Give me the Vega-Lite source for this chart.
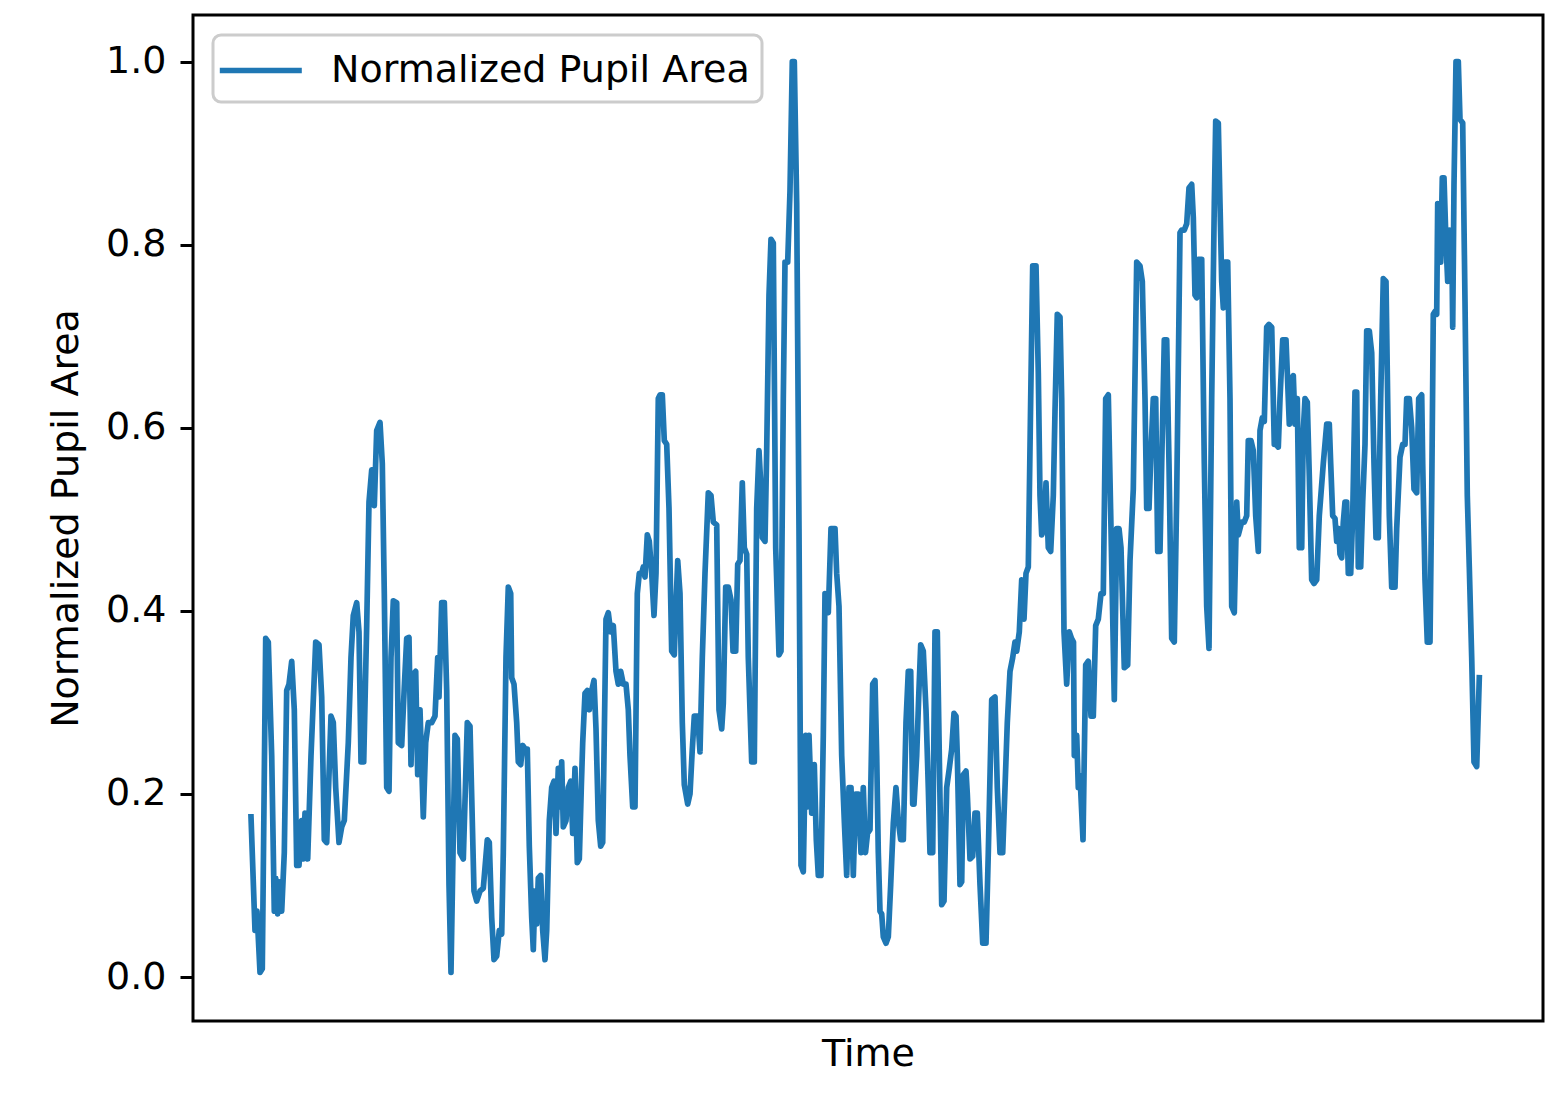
{
  "$schema": "https://vega.github.io/schema/vega-lite/v6.json",
  "width": 1350,
  "height": 1006,
  "autosize": {"type": "none"},
  "padding": {"left": 193, "top": 15, "right": 6, "bottom": 73},
  "background": "white",
  "config": {
    "view": {"stroke": "black", "strokeWidth": 3, "fill": "white"},
    "font": "DejaVu Sans",
    "axis": {"labelFont": "DejaVu Sans", "titleFont": "DejaVu Sans", "labelColor": "black", "titleColor": "black", "titleFontWeight": "normal", "grid": false, "domain": false},
    "legend": {"strokeWidth": 3}
  },
  "data": {"values": [
    {"time": 1.0, "area": 0.175}, {"time": 5.0, "area": 0.051}, {"time": 7.0, "area": 0.072}, {"time": 10.0, "area": 0.005}, {"time": 12.3, "area": 0.009}, {"time": 15.7, "area": 0.370}, {"time": 18.3, "area": 0.366}, {"time": 21.7, "area": 0.242}, {"time": 24.3, "area": 0.072}, {"time": 25.7, "area": 0.108}, {"time": 27.7, "area": 0.069}, {"time": 30.0, "area": 0.104}, {"time": 31.7, "area": 0.072}, {"time": 34.3, "area": 0.136}, {"time": 36.7, "area": 0.313}, {"time": 39.0, "area": 0.320}, {"time": 41.7, "area": 0.345}, {"time": 44.3, "area": 0.292}, {"time": 46.7, "area": 0.122}, {"time": 49.0, "area": 0.122}, {"time": 51.7, "area": 0.171}, {"time": 53.3, "area": 0.129}, {"time": 55.0, "area": 0.179}, {"time": 57.7, "area": 0.129}, {"time": 61.0, "area": 0.242}, {"time": 65.7, "area": 0.366}, {"time": 69.0, "area": 0.363}, {"time": 71.7, "area": 0.306}, {"time": 74.3, "area": 0.150}, {"time": 76.7, "area": 0.147}, {"time": 81.0, "area": 0.285}, {"time": 83.3, "area": 0.278}, {"time": 85.7, "area": 0.207}, {"time": 89.0, "area": 0.147}, {"time": 91.7, "area": 0.164}, {"time": 94.3, "area": 0.171}, {"time": 98.3, "area": 0.256}, {"time": 101.0, "area": 0.349}, {"time": 103.3, "area": 0.395}, {"time": 106.7, "area": 0.409}, {"time": 109.0, "area": 0.377}, {"time": 111.0, "area": 0.235}, {"time": 113.7, "area": 0.235}, {"time": 116.7, "area": 0.384}, {"time": 119.0, "area": 0.519}, {"time": 121.7, "area": 0.554}, {"time": 124.3, "area": 0.515}, {"time": 126.7, "area": 0.597}, {"time": 130.0, "area": 0.606}, {"time": 132.3, "area": 0.561}, {"time": 134.3, "area": 0.419}, {"time": 136.7, "area": 0.207}, {"time": 139.0, "area": 0.203}, {"time": 141.0, "area": 0.349}, {"time": 143.3, "area": 0.411}, {"time": 146.7, "area": 0.409}, {"time": 148.3, "area": 0.256}, {"time": 151.7, "area": 0.253}, {"time": 154.3, "area": 0.317}, {"time": 156.7, "area": 0.370}, {"time": 159.0, "area": 0.371}, {"time": 161.0, "area": 0.232}, {"time": 163.3, "area": 0.331}, {"time": 165.7, "area": 0.334}, {"time": 167.7, "area": 0.221}, {"time": 170.0, "area": 0.292}, {"time": 173.3, "area": 0.175}, {"time": 175.7, "area": 0.256}, {"time": 178.3, "area": 0.278}, {"time": 181.7, "area": 0.278}, {"time": 185.0, "area": 0.285}, {"time": 187.7, "area": 0.349}, {"time": 189.0, "area": 0.306}, {"time": 191.7, "area": 0.409}, {"time": 194.3, "area": 0.409}, {"time": 196.7, "area": 0.313}, {"time": 199.0, "area": 0.101}, {"time": 201.0, "area": 0.005}, {"time": 205.0, "area": 0.264}, {"time": 207.3, "area": 0.260}, {"time": 210.0, "area": 0.136}, {"time": 213.3, "area": 0.129}, {"time": 217.3, "area": 0.278}, {"time": 220.0, "area": 0.274}, {"time": 224.0, "area": 0.094}, {"time": 226.7, "area": 0.083}, {"time": 230.0, "area": 0.094}, {"time": 233.3, "area": 0.097}, {"time": 237.3, "area": 0.150}, {"time": 239.3, "area": 0.147}, {"time": 241.7, "area": 0.065}, {"time": 244.0, "area": 0.019}, {"time": 246.7, "area": 0.023}, {"time": 249.3, "area": 0.051}, {"time": 251.7, "area": 0.047}, {"time": 253.3, "area": 0.136}, {"time": 256.0, "area": 0.349}, {"time": 258.3, "area": 0.426}, {"time": 260.7, "area": 0.419}, {"time": 261.7, "area": 0.327}, {"time": 264.0, "area": 0.320}, {"time": 266.7, "area": 0.278}, {"time": 268.3, "area": 0.235}, {"time": 270.7, "area": 0.232}, {"time": 272.7, "area": 0.253}, {"time": 275.3, "area": 0.249}, {"time": 277.3, "area": 0.249}, {"time": 279.3, "area": 0.143}, {"time": 281.7, "area": 0.065}, {"time": 283.3, "area": 0.030}, {"time": 285.0, "area": 0.094}, {"time": 286.7, "area": 0.058}, {"time": 288.3, "area": 0.108}, {"time": 290.7, "area": 0.111}, {"time": 292.7, "area": 0.051}, {"time": 295.0, "area": 0.019}, {"time": 296.7, "area": 0.051}, {"time": 299.3, "area": 0.171}, {"time": 301.7, "area": 0.207}, {"time": 304.0, "area": 0.214}, {"time": 306.0, "area": 0.157}, {"time": 308.3, "area": 0.228}, {"time": 310.0, "area": 0.186}, {"time": 311.7, "area": 0.235}, {"time": 313.3, "area": 0.164}, {"time": 316.0, "area": 0.171}, {"time": 318.3, "area": 0.207}, {"time": 320.7, "area": 0.214}, {"time": 322.7, "area": 0.157}, {"time": 325.0, "area": 0.228}, {"time": 327.3, "area": 0.125}, {"time": 329.3, "area": 0.129}, {"time": 331.3, "area": 0.207}, {"time": 332.7, "area": 0.256}, {"time": 335.0, "area": 0.310}, {"time": 337.3, "area": 0.313}, {"time": 339.3, "area": 0.292}, {"time": 341.7, "area": 0.313}, {"time": 344.0, "area": 0.324}, {"time": 346.0, "area": 0.271}, {"time": 348.3, "area": 0.171}, {"time": 350.7, "area": 0.143}, {"time": 352.7, "area": 0.147}, {"time": 356.0, "area": 0.391}, {"time": 358.3, "area": 0.398}, {"time": 360.7, "area": 0.377}, {"time": 363.3, "area": 0.384}, {"time": 366.0, "area": 0.334}, {"time": 368.3, "area": 0.320}, {"time": 370.7, "area": 0.334}, {"time": 373.3, "area": 0.320}, {"time": 376.0, "area": 0.320}, {"time": 378.3, "area": 0.292}, {"time": 380.0, "area": 0.242}, {"time": 382.7, "area": 0.186}, {"time": 385.0, "area": 0.186}, {"time": 387.3, "area": 0.419}, {"time": 389.3, "area": 0.441}, {"time": 391.7, "area": 0.441}, {"time": 393.3, "area": 0.448}, {"time": 395.0, "area": 0.437}, {"time": 397.3, "area": 0.483}, {"time": 399.3, "area": 0.476}, {"time": 401.7, "area": 0.441}, {"time": 404.0, "area": 0.395}, {"time": 406.0, "area": 0.441}, {"time": 408.3, "area": 0.632}, {"time": 410.0, "area": 0.636}, {"time": 412.3, "area": 0.636}, {"time": 414.3, "area": 0.586}, {"time": 416.7, "area": 0.582}, {"time": 419.0, "area": 0.512}, {"time": 421.7, "area": 0.356}, {"time": 424.3, "area": 0.352}, {"time": 425.7, "area": 0.398}, {"time": 427.7, "area": 0.455}, {"time": 430.0, "area": 0.419}, {"time": 432.3, "area": 0.278}, {"time": 434.3, "area": 0.210}, {"time": 437.7, "area": 0.189}, {"time": 440.0, "area": 0.200}, {"time": 442.3, "area": 0.249}, {"time": 444.3, "area": 0.285}, {"time": 447.7, "area": 0.285}, {"time": 450.0, "area": 0.246}, {"time": 452.3, "area": 0.349}, {"time": 455.0, "area": 0.441}, {"time": 458.3, "area": 0.529}, {"time": 461.0, "area": 0.526}, {"time": 463.3, "area": 0.497}, {"time": 466.7, "area": 0.494}, {"time": 469.0, "area": 0.292}, {"time": 471.7, "area": 0.271}, {"time": 473.3, "area": 0.299}, {"time": 475.7, "area": 0.426}, {"time": 478.3, "area": 0.426}, {"time": 481.0, "area": 0.412}, {"time": 483.0, "area": 0.356}, {"time": 485.7, "area": 0.356}, {"time": 487.7, "area": 0.451}, {"time": 490.0, "area": 0.455}, {"time": 492.3, "area": 0.540}, {"time": 494.3, "area": 0.469}, {"time": 496.7, "area": 0.462}, {"time": 498.3, "area": 0.349}, {"time": 501.7, "area": 0.235}, {"time": 504.3, "area": 0.235}, {"time": 506.7, "area": 0.512}, {"time": 509.0, "area": 0.575}, {"time": 511.0, "area": 0.533}, {"time": 512.3, "area": 0.480}, {"time": 515.0, "area": 0.476}, {"time": 516.7, "area": 0.575}, {"time": 519.0, "area": 0.745}, {"time": 521.0, "area": 0.806}, {"time": 523.3, "area": 0.802}, {"time": 525.7, "area": 0.469}, {"time": 529.0, "area": 0.352}, {"time": 531.0, "area": 0.356}, {"time": 533.3, "area": 0.632}, {"time": 535.0, "area": 0.781}, {"time": 537.7, "area": 0.781}, {"time": 540.0, "area": 0.859}, {"time": 542.3, "area": 1.000}, {"time": 544.3, "area": 1.000}, {"time": 546.7, "area": 0.845}, {"time": 549.0, "area": 0.490}, {"time": 551.0, "area": 0.122}, {"time": 553.3, "area": 0.115}, {"time": 555.7, "area": 0.264}, {"time": 557.7, "area": 0.186}, {"time": 559.0, "area": 0.264}, {"time": 561.7, "area": 0.179}, {"time": 564.3, "area": 0.232}, {"time": 566.3, "area": 0.150}, {"time": 568.3, "area": 0.111}, {"time": 571.0, "area": 0.111}, {"time": 573.3, "area": 0.264}, {"time": 575.0, "area": 0.419}, {"time": 578.3, "area": 0.398}, {"time": 581.0, "area": 0.490}, {"time": 585.0, "area": 0.490}, {"time": 586.7, "area": 0.441}, {"time": 589.0, "area": 0.405}, {"time": 591.7, "area": 0.242}, {"time": 594.3, "area": 0.171}, {"time": 596.7, "area": 0.111}, {"time": 599.0, "area": 0.207}, {"time": 601.0, "area": 0.207}, {"time": 603.3, "area": 0.111}, {"time": 605.7, "area": 0.200}, {"time": 608.3, "area": 0.200}, {"time": 611.0, "area": 0.136}, {"time": 613.3, "area": 0.207}, {"time": 615.5, "area": 0.136}, {"time": 617.5, "area": 0.157}, {"time": 620.0, "area": 0.161}, {"time": 622.7, "area": 0.320}, {"time": 625.0, "area": 0.324}, {"time": 626.7, "area": 0.242}, {"time": 628.3, "area": 0.136}, {"time": 630.0, "area": 0.072}, {"time": 631.7, "area": 0.069}, {"time": 633.3, "area": 0.044}, {"time": 636.0, "area": 0.037}, {"time": 638.3, "area": 0.044}, {"time": 640.7, "area": 0.101}, {"time": 643.3, "area": 0.168}, {"time": 646.0, "area": 0.207}, {"time": 648.3, "area": 0.171}, {"time": 650.7, "area": 0.150}, {"time": 653.3, "area": 0.150}, {"time": 656.0, "area": 0.278}, {"time": 658.3, "area": 0.334}, {"time": 660.7, "area": 0.334}, {"time": 662.7, "area": 0.189}, {"time": 664.0, "area": 0.189}, {"time": 666.7, "area": 0.242}, {"time": 668.7, "area": 0.306}, {"time": 670.7, "area": 0.363}, {"time": 673.3, "area": 0.356}, {"time": 676.0, "area": 0.292}, {"time": 678.3, "area": 0.207}, {"time": 680.0, "area": 0.136}, {"time": 682.7, "area": 0.136}, {"time": 685.0, "area": 0.377}, {"time": 687.3, "area": 0.377}, {"time": 689.3, "area": 0.242}, {"time": 691.7, "area": 0.079}, {"time": 694.0, "area": 0.083}, {"time": 696.7, "area": 0.207}, {"time": 699.3, "area": 0.228}, {"time": 701.7, "area": 0.249}, {"time": 704.0, "area": 0.288}, {"time": 706.0, "area": 0.285}, {"time": 707.3, "area": 0.242}, {"time": 710.0, "area": 0.101}, {"time": 711.7, "area": 0.104}, {"time": 713.3, "area": 0.221}, {"time": 716.0, "area": 0.225}, {"time": 717.3, "area": 0.200}, {"time": 720.0, "area": 0.129}, {"time": 722.7, "area": 0.132}, {"time": 725.0, "area": 0.179}, {"time": 727.3, "area": 0.179}, {"time": 730.0, "area": 0.101}, {"time": 732.7, "area": 0.037}, {"time": 736.0, "area": 0.037}, {"time": 738.3, "area": 0.136}, {"time": 741.7, "area": 0.303}, {"time": 745.0, "area": 0.306}, {"time": 747.3, "area": 0.207}, {"time": 750.0, "area": 0.136}, {"time": 752.7, "area": 0.136}, {"time": 755.0, "area": 0.207}, {"time": 757.3, "area": 0.278}, {"time": 760.0, "area": 0.334}, {"time": 762.7, "area": 0.349}, {"time": 765.0, "area": 0.366}, {"time": 766.7, "area": 0.356}, {"time": 769.3, "area": 0.377}, {"time": 771.7, "area": 0.434}, {"time": 774.0, "area": 0.391}, {"time": 776.0, "area": 0.441}, {"time": 778.3, "area": 0.448}, {"time": 780.7, "area": 0.632}, {"time": 782.7, "area": 0.777}, {"time": 786.0, "area": 0.777}, {"time": 788.3, "area": 0.660}, {"time": 790.0, "area": 0.526}, {"time": 791.7, "area": 0.483}, {"time": 794.0, "area": 0.490}, {"time": 796.0, "area": 0.540}, {"time": 798.3, "area": 0.469}, {"time": 800.7, "area": 0.465}, {"time": 803.3, "area": 0.526}, {"time": 805.0, "area": 0.618}, {"time": 807.3, "area": 0.724}, {"time": 810.0, "area": 0.721}, {"time": 811.7, "area": 0.632}, {"time": 814.0, "area": 0.377}, {"time": 816.7, "area": 0.320}, {"time": 819.3, "area": 0.377}, {"time": 821.5, "area": 0.370}, {"time": 823.5, "area": 0.366}, {"time": 824.3, "area": 0.242}, {"time": 826.7, "area": 0.264}, {"time": 828.3, "area": 0.207}, {"time": 830.0, "area": 0.220}, {"time": 833.0, "area": 0.150}, {"time": 835.7, "area": 0.341}, {"time": 838.3, "area": 0.345}, {"time": 841.0, "area": 0.285}, {"time": 843.3, "area": 0.285}, {"time": 845.7, "area": 0.384}, {"time": 848.3, "area": 0.391}, {"time": 851.0, "area": 0.419}, {"time": 853.3, "area": 0.419}, {"time": 855.7, "area": 0.632}, {"time": 858.3, "area": 0.636}, {"time": 861.0, "area": 0.490}, {"time": 864.3, "area": 0.303}, {"time": 866.7, "area": 0.490}, {"time": 869.0, "area": 0.490}, {"time": 871.0, "area": 0.469}, {"time": 874.3, "area": 0.338}, {"time": 877.7, "area": 0.341}, {"time": 880.0, "area": 0.455}, {"time": 883.3, "area": 0.533}, {"time": 886.7, "area": 0.781}, {"time": 890.0, "area": 0.777}, {"time": 892.3, "area": 0.760}, {"time": 895.0, "area": 0.632}, {"time": 896.7, "area": 0.512}, {"time": 899.0, "area": 0.512}, {"time": 901.0, "area": 0.575}, {"time": 903.3, "area": 0.632}, {"time": 905.7, "area": 0.632}, {"time": 907.7, "area": 0.465}, {"time": 910.0, "area": 0.465}, {"time": 911.7, "area": 0.561}, {"time": 914.3, "area": 0.696}, {"time": 916.7, "area": 0.696}, {"time": 919.0, "area": 0.561}, {"time": 921.7, "area": 0.370}, {"time": 924.3, "area": 0.366}, {"time": 926.7, "area": 0.526}, {"time": 930.0, "area": 0.813}, {"time": 931.7, "area": 0.816}, {"time": 934.3, "area": 0.816}, {"time": 936.7, "area": 0.823}, {"time": 939.0, "area": 0.862}, {"time": 941.7, "area": 0.866}, {"time": 943.3, "area": 0.830}, {"time": 945.0, "area": 0.745}, {"time": 946.7, "area": 0.742}, {"time": 948.3, "area": 0.784}, {"time": 951.7, "area": 0.784}, {"time": 954.3, "area": 0.561}, {"time": 956.7, "area": 0.405}, {"time": 959.0, "area": 0.359}, {"time": 961.7, "area": 0.632}, {"time": 964.3, "area": 0.845}, {"time": 965.7, "area": 0.935}, {"time": 968.3, "area": 0.933}, {"time": 970.0, "area": 0.845}, {"time": 971.7, "area": 0.760}, {"time": 973.3, "area": 0.731}, {"time": 975.0, "area": 0.781}, {"time": 977.7, "area": 0.781}, {"time": 980.0, "area": 0.632}, {"time": 981.7, "area": 0.405}, {"time": 984.3, "area": 0.398}, {"time": 986.7, "area": 0.519}, {"time": 988.3, "area": 0.483}, {"time": 991.7, "area": 0.497}, {"time": 994.3, "area": 0.497}, {"time": 996.7, "area": 0.504}, {"time": 998.3, "area": 0.586}, {"time": 1001.0, "area": 0.586}, {"time": 1003.3, "area": 0.575}, {"time": 1005.7, "area": 0.504}, {"time": 1008.3, "area": 0.465}, {"time": 1010.0, "area": 0.597}, {"time": 1012.3, "area": 0.611}, {"time": 1014.3, "area": 0.607}, {"time": 1016.7, "area": 0.710}, {"time": 1019.0, "area": 0.713}, {"time": 1021.7, "area": 0.710}, {"time": 1024.3, "area": 0.582}, {"time": 1026.0, "area": 0.582}, {"time": 1028.3, "area": 0.579}, {"time": 1030.0, "area": 0.632}, {"time": 1032.7, "area": 0.696}, {"time": 1036.0, "area": 0.696}, {"time": 1037.3, "area": 0.660}, {"time": 1039.3, "area": 0.604}, {"time": 1040.7, "area": 0.653}, {"time": 1043.3, "area": 0.657}, {"time": 1045.0, "area": 0.604}, {"time": 1047.3, "area": 0.632}, {"time": 1049.3, "area": 0.469}, {"time": 1051.7, "area": 0.469}, {"time": 1053.3, "area": 0.597}, {"time": 1055.0, "area": 0.632}, {"time": 1057.3, "area": 0.628}, {"time": 1059.3, "area": 0.547}, {"time": 1061.7, "area": 0.434}, {"time": 1064.0, "area": 0.430}, {"time": 1066.7, "area": 0.434}, {"time": 1069.3, "area": 0.504}, {"time": 1073.3, "area": 0.561}, {"time": 1076.7, "area": 0.604}, {"time": 1079.3, "area": 0.604}, {"time": 1080.7, "area": 0.561}, {"time": 1082.7, "area": 0.504}, {"time": 1085.0, "area": 0.501}, {"time": 1086.7, "area": 0.476}, {"time": 1088.7, "area": 0.490}, {"time": 1090.0, "area": 0.462}, {"time": 1091.7, "area": 0.458}, {"time": 1093.3, "area": 0.497}, {"time": 1095.0, "area": 0.519}, {"time": 1096.7, "area": 0.519}, {"time": 1098.3, "area": 0.441}, {"time": 1100.7, "area": 0.441}, {"time": 1102.7, "area": 0.504}, {"time": 1105.0, "area": 0.639}, {"time": 1106.7, "area": 0.639}, {"time": 1108.3, "area": 0.448}, {"time": 1110.7, "area": 0.448}, {"time": 1112.7, "area": 0.519}, {"time": 1115.0, "area": 0.582}, {"time": 1116.7, "area": 0.706}, {"time": 1119.3, "area": 0.706}, {"time": 1121.7, "area": 0.682}, {"time": 1124.0, "area": 0.561}, {"time": 1126.0, "area": 0.480}, {"time": 1128.3, "area": 0.480}, {"time": 1130.7, "area": 0.632}, {"time": 1133.3, "area": 0.763}, {"time": 1136.0, "area": 0.760}, {"time": 1137.3, "area": 0.660}, {"time": 1139.3, "area": 0.504}, {"time": 1141.7, "area": 0.426}, {"time": 1145.0, "area": 0.426}, {"time": 1146.7, "area": 0.490}, {"time": 1150.0, "area": 0.568}, {"time": 1152.7, "area": 0.582}, {"time": 1155.0, "area": 0.582}, {"time": 1156.7, "area": 0.632}, {"time": 1159.3, "area": 0.632}, {"time": 1161.7, "area": 0.600}, {"time": 1164.0, "area": 0.533}, {"time": 1166.7, "area": 0.529}, {"time": 1168.7, "area": 0.632}, {"time": 1171.7, "area": 0.636}, {"time": 1172.7, "area": 0.561}, {"time": 1175.0, "area": 0.434}, {"time": 1177.3, "area": 0.366}, {"time": 1180.0, "area": 0.366}, {"time": 1181.7, "area": 0.526}, {"time": 1183.3, "area": 0.724}, {"time": 1185.0, "area": 0.727}, {"time": 1186.7, "area": 0.724}, {"time": 1187.7, "area": 0.845}, {"time": 1189.3, "area": 0.837}, {"time": 1190.7, "area": 0.781}, {"time": 1192.3, "area": 0.873}, {"time": 1194.0, "area": 0.873}, {"time": 1196.0, "area": 0.802}, {"time": 1197.7, "area": 0.760}, {"time": 1199.3, "area": 0.816}, {"time": 1201.7, "area": 0.813}, {"time": 1202.7, "area": 0.710}, {"time": 1204.0, "area": 0.866}, {"time": 1206.0, "area": 1.000}, {"time": 1208.3, "area": 1.000}, {"time": 1210.0, "area": 0.937}, {"time": 1212.7, "area": 0.933}, {"time": 1215.0, "area": 0.738}, {"time": 1217.3, "area": 0.526}, {"time": 1219.3, "area": 0.448}, {"time": 1221.7, "area": 0.349}, {"time": 1224.0, "area": 0.235}, {"time": 1226.7, "area": 0.230}, {"time": 1229.3, "area": 0.327}
  ]},
  "mark": {"type": "line", "strokeWidth": 5.7, "strokeJoin": "round", "strokeCap": "square", "clip": true},
  "encoding": {
    "x": {
      "field": "time", "type": "quantitative",
      "scale": {"domain": [-57, 1293], "nice": false, "zero": false},
      "axis": {"title": "Time", "labels": false, "ticks": false, "titleFontSize": 38, "titlePadding": 14}
    },
    "y": {
      "field": "area", "type": "quantitative",
      "scale": {"domain": [-0.048, 1.051], "nice": false, "zero": false},
      "axis": {"title": "Normalized Pupil Area", "values": [0, 0.2, 0.4, 0.6, 0.8, 1.0], "format": ".1f", "labelFontSize": 38, "titleFontSize": 38, "tickSize": 13, "tickWidth": 3, "tickColor": "black", "labelPadding": 14, "titlePadding": 20}
    },
    "color": {
      "datum": "Normalized Pupil Area",
      "scale": {"range": ["#1f77b4"]},
      "legend": {
        "title": null, "orient": "top-left", "offset": 20, "padding": 12,
        "symbolType": "M-1.4,0H2.6", "symbolSize": 1681, "symbolStrokeWidth": 5.7,
        "labelFontSize": 38, "labelFont": "DejaVu Sans", "labelColor": "black", "labelOffset": 59, "labelLimit": 0,
        "fillColor": "rgba(255,255,255,0.8)", "strokeColor": "#cccccc", "cornerRadius": 8
      }
    }
  }
}
